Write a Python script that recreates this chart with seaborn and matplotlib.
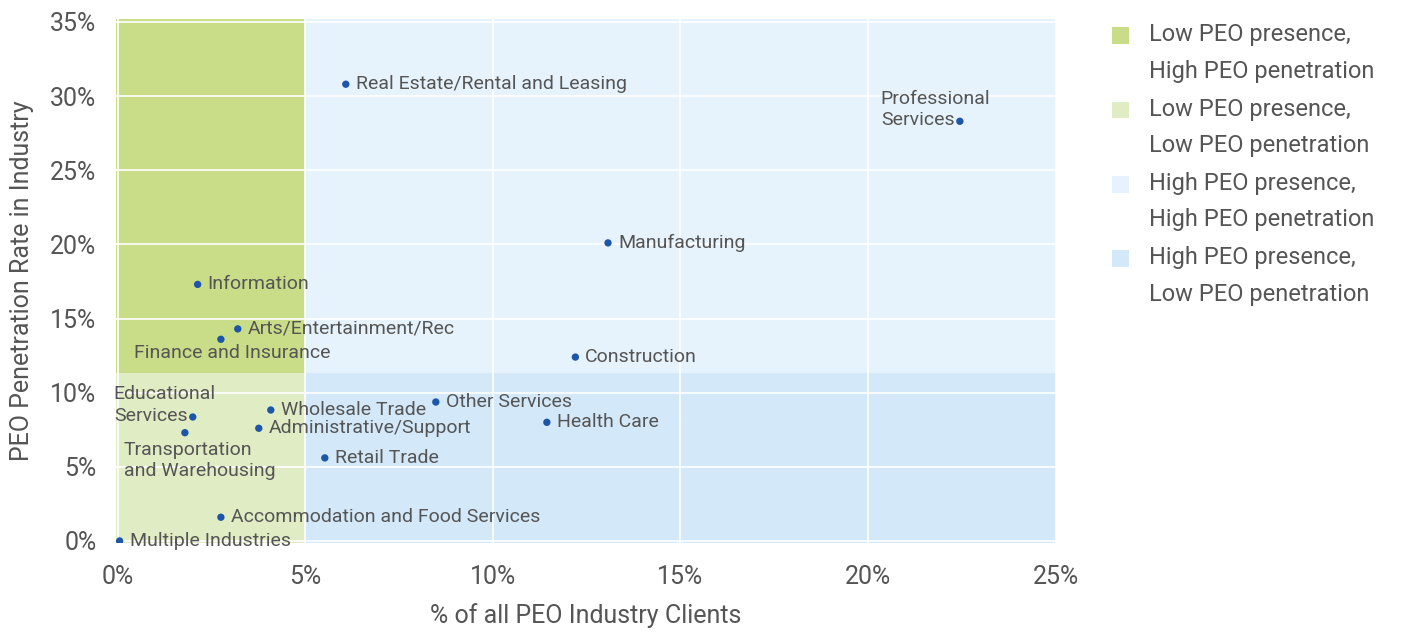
"""PEO presence vs. penetration by industry, quadrant scatter."""

import matplotlib
matplotlib.use("Agg")
import matplotlib.pyplot as plt
from matplotlib.patches import Patch, Rectangle
from matplotlib.ticker import PercentFormatter, MultipleLocator
import pandas as pd
import seaborn as sns

industries = [
    "Real Estate/Rental and Leasing", "Professional\nServices", "Manufacturing",
    "Information", "Arts/Entertainment/Rec", "Finance and Insurance",
    "Construction", "Other Services", "Health Care", "Wholesale Trade",
    "Educational\nServices", "Administrative/Support",
    "Transportation\nand Warehousing", "Retail Trade",
    "Accommodation and Food Services", "Multiple Industries",
]
client_share = [6.08, 22.45, 13.07, 2.13, 3.2, 2.75, 12.2, 8.48, 11.44, 4.08,
                2.0, 3.76, 1.79, 5.52, 2.75, 0.05]
penetration = [30.8, 28.3, 20.1, 17.3, 14.3, 13.6, 12.4, 9.37, 8.0, 8.83,
               8.36, 7.6, 7.3, 5.6, 1.6, 0.0]

presence_cut = 5.0
penetration_cut = 11.3

quadrant_labels = [
    "Low PEO presence,\nHigh PEO penetration",
    "Low PEO presence,\nLow PEO penetration",
    "High PEO presence,\nHigh PEO penetration",
    "High PEO presence,\nLow PEO penetration",
]
quadrant_colors = ["#c9dd89", "#e0ecc3", "#e6f3fc", "#d3e8f8"]

# label offsets in pixels (dx, dy, ha, va) relative to each dot
label_pos = {
    "Professional\nServices": (-79, 12, "left", "center"),
    "Finance and Insurance": (-87, -14, "left", "center"),
    "Educational\nServices": (-79, 12, "left", "center"),
    "Transportation\nand Warehousing": (-61, -28, "left", "center"),
}

sns.set_theme(style="white")
plt.rcParams["font.family"] = ["Roboto", "DejaVu Sans"]
text_color = "#555555"

df = pd.DataFrame({"industry": industries, "share": client_share, "pen": penetration})

fig = plt.figure(figsize=(14.13, 6.32), dpi=100)
ax = fig.add_axes([0.082, 0.141, 0.665, 0.829])

x0, x1 = -0.05, 25.0
y0, y1 = -0.13, 35.2
ax.set_xlim(x0, x1)
ax.set_ylim(y0, y1)

quads = [
    (x0, penetration_cut, presence_cut - x0, y1 - penetration_cut),
    (x0, y0, presence_cut - x0, penetration_cut - y0),
    (presence_cut, penetration_cut, x1 - presence_cut, y1 - penetration_cut),
    (presence_cut, y0, x1 - presence_cut, penetration_cut - y0),
]
for (qx, qy, qw, qh), c in zip(quads, quadrant_colors):
    ax.add_patch(Rectangle((qx, qy), qw, qh, facecolor=c, edgecolor="none", zorder=0.2))

ax.set_axisbelow(True)
ax.grid(True, color="white", linewidth=1.2)
ax.xaxis.set_major_locator(MultipleLocator(5))
ax.yaxis.set_major_locator(MultipleLocator(5))
ax.xaxis.set_major_formatter(PercentFormatter(100, decimals=0))
ax.yaxis.set_major_formatter(PercentFormatter(100, decimals=0))

sns.scatterplot(data=df, x="share", y="pen", ax=ax, color="#1d56a8", s=28,
                edgecolor="none", zorder=3)

px = 72 / fig.dpi
for name, xv, yv in zip(industries, client_share, penetration):
    dx, dy, ha, va = label_pos.get(name, (10, 0, "left", "center"))
    ax.annotate(name, (xv, yv), xytext=(dx * px, dy * px), textcoords="offset points",
                ha=ha, va=va, fontsize=14, color=text_color, linespacing=1.25,
                multialignment="left", zorder=4)

for s in ax.spines.values():
    s.set_visible(False)
ax.tick_params(axis="both", length=0, labelsize=18, labelcolor=text_color)
ax.tick_params(axis="x", pad=16)
ax.tick_params(axis="y", pad=14)
ax.set_xlabel("% of all PEO Industry Clients", fontsize=18, color=text_color, labelpad=10)
ax.set_ylabel("PEO Penetration Rate in Industry", fontsize=18, color=text_color, labelpad=12)

handles = [Patch(facecolor=c, edgecolor="none") for c in quadrant_colors]
leg = fig.legend(handles, quadrant_labels, loc="upper left", bbox_to_anchor=(0.772, 0.997),
                 frameon=False, fontsize=17, handlelength=0.7, handleheight=0.7,
                 handletextpad=0.85, labelspacing=0.63, labelcolor=text_color)
for t in leg.get_texts():
    t.set_linespacing(1.75)
# pin each swatch to the first line of its label
for h in leg.legend_handles:
    h.set_y(h.get_y() + 13)

fig.savefig("out.png", dpi=100)
plt.close(fig)
